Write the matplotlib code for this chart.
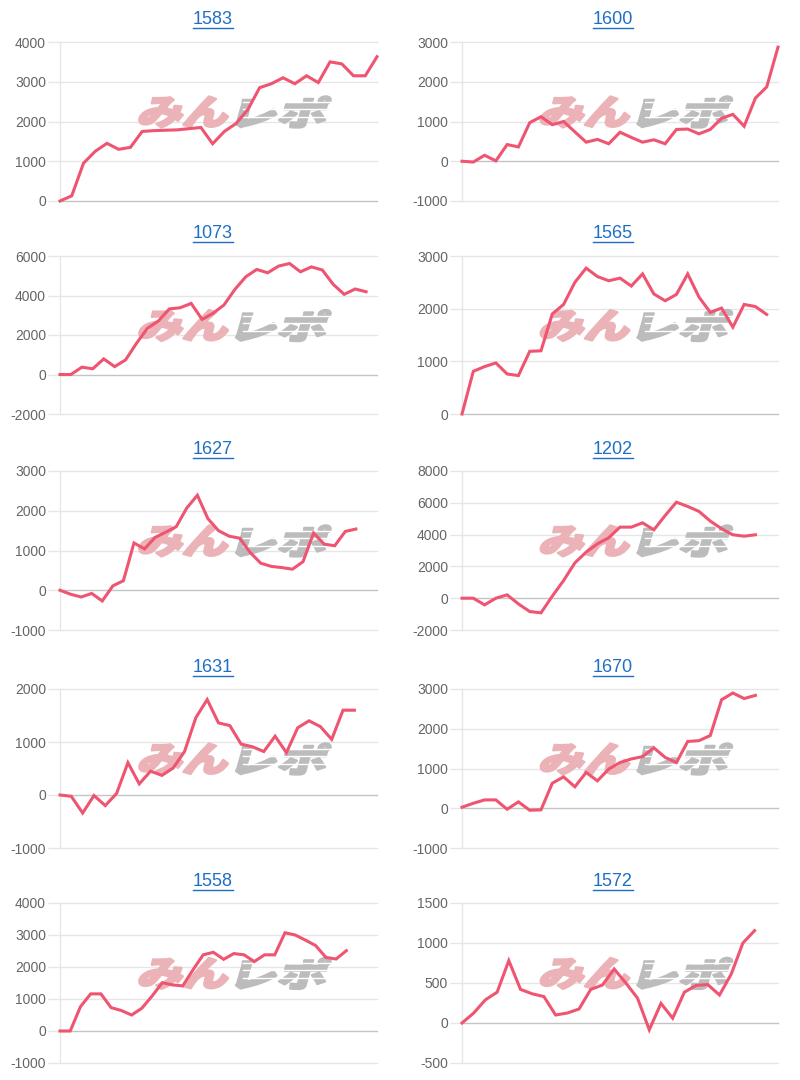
import matplotlib
matplotlib.use('Agg')
import matplotlib.pyplot as plt
from matplotlib.textpath import TextPath
from matplotlib.patches import PathPatch
from matplotlib.font_manager import FontProperties
from matplotlib.transforms import Affine2D
from matplotlib.lines import Line2D
import numpy as np

plt.rcParams['font.family'] = ['Liberation Sans', 'DejaVu Sans']

################################################
# data
################################################
machines = ['1583', '1600', '1073', '1565', '1627', '1202', '1631', '1670', '1558', '1572']

# number of days on each chart's x axis
days_on_axis = [28, 29, 30, 29, 31, 29, 29, 29, 32, 28]

diff_1583 = [0, 130, 950, 1250, 1450, 1300, 1350, 1750, 1770, 1780, 1790, 1820, 1850, 1440,
             1750, 1950, 2300, 2850, 2950, 3100, 2950, 3150, 2980, 3500, 3450, 3150, 3150, 3630]
diff_1600 = [0, -20, 150, 10, 420, 360, 970, 1120, 920, 1000, 740, 480, 550, 440, 730,
             600, 480, 540, 440, 800, 810, 690, 800, 1080, 1180, 880, 1590, 1870, 2870]
diff_1073 = [0, 0, 370, 290, 790, 400, 740, 1580, 2340, 2710, 3320, 3380, 3600, 2790, 3100,
             3520, 4310, 4950, 5320, 5150, 5490, 5620, 5200, 5450, 5290, 4560, 4060, 4330, 4190]
diff_1565 = [0, 810, 900, 970, 760, 730, 1190, 1200, 1900, 2080, 2500, 2770, 2610, 2530,
             2580, 2430, 2660, 2280, 2150, 2270, 2660, 2220, 1930, 2010, 1650, 2080, 2040, 1890]
diff_1627 = [0, -100, -170, -80, -270, 110, 240, 1190, 1040, 1330, 1460, 1600, 2070, 2390, 1800,
             1500, 1360, 1310, 950, 680, 600, 570, 530, 720, 1440, 1160, 1120, 1480, 1540]
diff_1202 = [0, 0, -420, 0, 210, -360, -840, -920, 130, 1110, 2220, 2900, 3420, 3800,
             4470, 4470, 4740, 4300, 5200, 6040, 5770, 5460, 4850, 4370, 3990, 3900, 3990]
diff_1631 = [0, -25, -340, -10, -200, 30, 610, 210, 450, 370, 510, 820, 1460, 1800,
             1360, 1310, 960, 910, 820, 1110, 800, 1270, 1400, 1290, 1050, 1600, 1600]
diff_1670 = [25, 125, 210, 210, -25, 160, -50, -40, 630, 790, 540, 900, 690, 985,
             1150, 1240, 1300, 1520, 1280, 1150, 1680, 1700, 1830, 2730, 2900, 2760, 2840]
diff_1558 = [0, 0, 760, 1160, 1160, 730, 640, 500, 710, 1090, 1510, 1440, 1410, 1910, 2380,
             2460, 2240, 2420, 2380, 2170, 2380, 2380, 3070, 3000, 2840, 2670, 2300, 2250, 2510]
diff_1572 = [0, 125, 290, 385, 780, 420, 365, 330, 100, 125, 175, 420, 475, 675,
             500, 310, -85, 245, 60, 385, 470, 480, 350, 610, 1000, 1155]

series = [diff_1583, diff_1600, diff_1073, diff_1565, diff_1627,
          diff_1202, diff_1631, diff_1670, diff_1558, diff_1572]

# y axis: (min, max, step)
y_scales = [(0, 4000, 1000), (-1000, 3000, 1000), (-2000, 6000, 2000), (0, 3000, 1000),
            (-1000, 3000, 1000), (-2000, 8000, 2000), (-1000, 2000, 1000), (-1000, 3000, 1000),
            (-1000, 4000, 1000), (-500, 1500, 500)]

################################################
# look
################################################
W, H, DPI = 800, 1080, 100
LINE_COLOR = '#ef5470'
LINK_COLOR = '#1f6fc6'
GRID_COLOR = '#e6e6e6'
ZERO_COLOR = '#c4c4c4'
TICK_COLOR = '#666666'

col_x = [(60, 377), (462, 778)]             # plot left/right in px
row_y = [(42, 201), (256, 414), (471, 630), (689, 848), (903, 1063)]  # plot top/bottom in px
title_y = [19, 233, 449, 667, 881]
title_x = [213, 613]

logo_font = FontProperties(family='Noto Sans CJK JP', weight='black')


def addLogo(fig, ax, cx, cy):
    # watermark: two skewed word parts, pink + grey, stroked to look heavy
    parts = [('みん', '#ebb3b7', cx - 49), ('レポ', '#bcbcbc', cx + 49)]
    for txt, color, px in parts:
        tp = TextPath((0, 0), txt, size=40, prop=logo_font)
        ext = tp.get_extents()
        tr = (Affine2D()
              .translate(-(ext.x0 + ext.x1) / 2, -(ext.y0 + ext.y1) / 2)
              .scale(88 / ext.width, 31 / ext.height)
              .skew_deg(16, 0)
              .translate(px, H - cy)
              .scale(1.0 / DPI)) + fig.dpi_scale_trans
        patch = PathPatch(tp, transform=tr, facecolor=color, edgecolor=color,
                          linewidth=1.7, joinstyle='round', zorder=1)
        ax.add_patch(patch)
        # speed stripes on the grey part
        if txt == 'レポ':
            for dy in (-5, 3, 10):
                yy = (H - cy + dy) / H
                ax.add_line(Line2D([(px - 40) / W, (px + 52) / W], [yy, yy],
                                   transform=fig.transFigure, color='white',
                                   linewidth=1.0, zorder=1.1))


def addTitle(fig, renderer, x, y, label):
    t = fig.text(x / W, 1 - y / H, label, ha='center', va='center',
                 fontsize=13, color=LINK_COLOR)
    bb = t.get_window_extent(renderer=renderer)
    yy = 1 - (y + 8.5) / H
    fig.add_artist(Line2D([bb.x0 / W, bb.x1 / W], [yy, yy], transform=fig.transFigure,
                          color=LINK_COLOR, linewidth=1.0))


def makePlots():
    fig = plt.figure(figsize=(W / DPI, H / DPI), dpi=DPI)
    fig.patch.set_facecolor('white')
    renderer = fig.canvas.get_renderer()

    for i, (name, values) in enumerate(zip(machines, series)):
        row, col = divmod(i, 2)
        x0, x1 = col_x[col]
        top, bot = row_y[row]
        ax = fig.add_axes([x0 / W, 1 - bot / H, (x1 - x0) / W, (bot - top) / H])

        ymin, ymax, step = y_scales[i]
        ticks = np.arange(ymin, ymax + step, step)
        ax.set_ylim(ymin, ymax)
        ax.set_xlim(0, days_on_axis[i] - 1)
        ax.set_yticks(ticks)
        ax.set_yticklabels([str(int(t)) for t in ticks])
        ax.set_xticks([])

        for t in ticks:
            ax.axhline(t, color=ZERO_COLOR if t == 0 else GRID_COLOR,
                       linewidth=1.0, zorder=0.5, clip_on=False)

        for side in ['top', 'right', 'bottom']:
            ax.spines[side].set_visible(False)
        ax.spines['left'].set_color(GRID_COLOR)
        ax.spines['left'].set_linewidth(1.0)
        ax.tick_params(axis='y', length=9, width=1.0, color=GRID_COLOR, pad=1,
                       labelsize=10, labelcolor=TICK_COLOR)

        ax.plot(np.arange(len(values)), values, color=LINE_COLOR, linewidth=2.2,
                solid_joinstyle='miter', zorder=3, clip_on=False)

        cx = x0 + 0.55 * (x1 - x0)
        cy = top + 0.44 * (bot - top)
        addLogo(fig, ax, cx, cy)

        addTitle(fig, renderer, title_x[col], title_y[row], name)

    fig.savefig('out.png', dpi=DPI, facecolor='white')


if __name__ == '__main__':
    makePlots()
